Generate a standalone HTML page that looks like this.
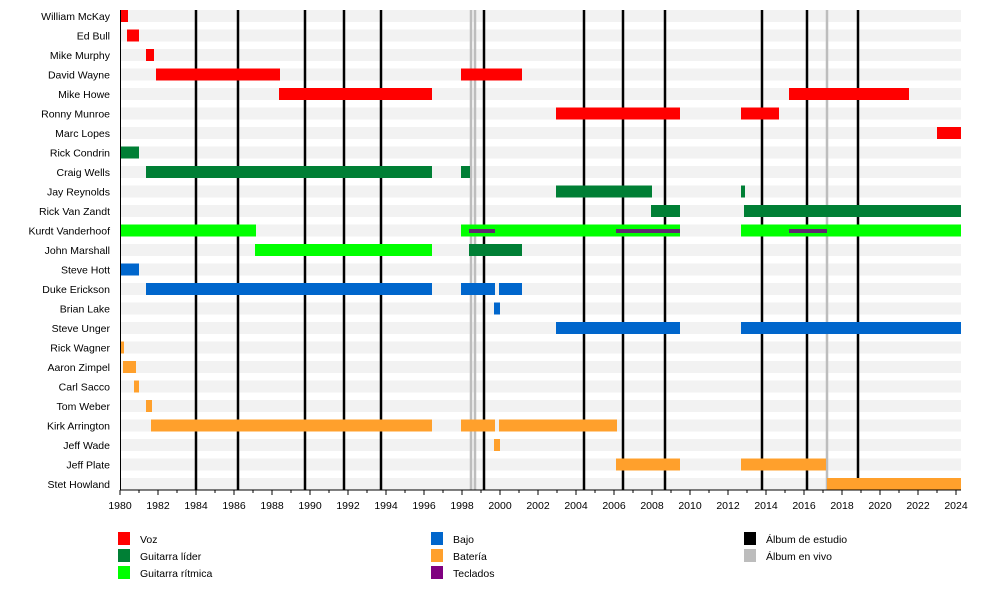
<!DOCTYPE html>
<html><head><meta charset="utf-8"><style>
html,body{margin:0;padding:0;background:#fff;}
svg{display:block;font-family:"Liberation Sans",sans-serif;}
</style></head><body>
<svg width="1000" height="590" viewBox="0 0 1000 590" xmlns="http://www.w3.org/2000/svg">
<g fill="#f2f2f2">
<rect x="120" y="10" width="841" height="12"/><rect x="120" y="29.5" width="841" height="12"/><rect x="120" y="49" width="841" height="12"/><rect x="120" y="68.5" width="841" height="12"/><rect x="120" y="88" width="841" height="12"/><rect x="120" y="107.5" width="841" height="12"/><rect x="120" y="127" width="841" height="12"/><rect x="120" y="146.5" width="841" height="12"/><rect x="120" y="166" width="841" height="12"/><rect x="120" y="185.5" width="841" height="12"/><rect x="120" y="205" width="841" height="12"/><rect x="120" y="224.5" width="841" height="12"/><rect x="120" y="244" width="841" height="12"/><rect x="120" y="263.5" width="841" height="12"/><rect x="120" y="283" width="841" height="12"/><rect x="120" y="302.5" width="841" height="12"/><rect x="120" y="322" width="841" height="12"/><rect x="120" y="341.5" width="841" height="12"/><rect x="120" y="361" width="841" height="12"/><rect x="120" y="380.5" width="841" height="12"/><rect x="120" y="400" width="841" height="12"/><rect x="120" y="419.5" width="841" height="12"/><rect x="120" y="439" width="841" height="12"/><rect x="120" y="458.5" width="841" height="12"/><rect x="120" y="478" width="841" height="12"/>
</g>
<g stroke="#000" stroke-width="2.5">
<line x1="196" y1="10" x2="196" y2="490"/><line x1="238" y1="10" x2="238" y2="490"/><line x1="305" y1="10" x2="305" y2="490"/><line x1="344" y1="10" x2="344" y2="490"/><line x1="381" y1="10" x2="381" y2="490"/><line x1="484" y1="10" x2="484" y2="490"/><line x1="584" y1="10" x2="584" y2="490"/><line x1="623" y1="10" x2="623" y2="490"/><line x1="665" y1="10" x2="665" y2="490"/><line x1="762" y1="10" x2="762" y2="490"/><line x1="807" y1="10" x2="807" y2="490"/><line x1="858" y1="10" x2="858" y2="490"/>
</g>
<g stroke="#bdbdbd" stroke-width="2.5">
<line x1="471" y1="10" x2="471" y2="490"/><line x1="475" y1="10" x2="475" y2="490"/><line x1="827" y1="10" x2="827" y2="490"/>
</g>
<g fill="#ff0000">
<rect x="120" y="10" width="8" height="12"/><rect x="127" y="29.5" width="12" height="12"/><rect x="146" y="49" width="8" height="12"/>
<rect x="156" y="68.5" width="124" height="12"/><rect x="461" y="68.5" width="61" height="12"/>
<rect x="279" y="88" width="153" height="12"/><rect x="789" y="88" width="120" height="12"/>
<rect x="556" y="107.5" width="124" height="12"/><rect x="741" y="107.5" width="38" height="12"/>
<rect x="937" y="127" width="24" height="12"/>
</g>
<g fill="#007f35">
<rect x="120" y="146.5" width="19" height="12"/>
<rect x="146" y="166" width="286" height="12"/><rect x="461" y="166" width="9" height="12"/>
<rect x="556" y="185.5" width="96" height="12"/><rect x="741" y="185.5" width="4" height="12"/>
<rect x="651" y="205" width="29" height="12"/><rect x="744" y="205" width="217" height="12"/>
<rect x="469" y="244" width="53" height="12"/>
</g>
<g fill="#00ff00">
<rect x="120" y="224.5" width="136" height="12"/><rect x="461" y="224.5" width="219" height="12"/><rect x="741" y="224.5" width="220" height="12"/>
<rect x="255" y="244" width="177" height="12"/>
</g>
<g fill="#5e2a6e">
<rect x="469" y="229" width="26" height="4"/><rect x="616" y="229" width="64" height="4"/><rect x="789" y="229" width="38" height="4"/>
</g>
<g fill="#0066cc">
<rect x="120" y="263.5" width="19" height="12"/>
<rect x="146" y="283" width="286" height="12"/><rect x="461" y="283" width="34" height="12"/><rect x="499" y="283" width="23" height="12"/>
<rect x="494" y="302.5" width="6" height="12"/>
<rect x="556" y="322" width="124" height="12"/><rect x="741" y="322" width="220" height="12"/>
</g>
<g fill="#ffa02c">
<rect x="120" y="341.5" width="4" height="12"/><rect x="123" y="361" width="13" height="12"/><rect x="134" y="380.5" width="5" height="12"/><rect x="146" y="400" width="6" height="12"/>
<rect x="151" y="419.5" width="281" height="12"/><rect x="461" y="419.5" width="34" height="12"/><rect x="499" y="419.5" width="118" height="12"/>
<rect x="494" y="439" width="6" height="12"/>
<rect x="616" y="458.5" width="64" height="12"/><rect x="741" y="458.5" width="85" height="12"/>
<rect x="827" y="478" width="134" height="12"/>
</g>
<g font-size="10.5" fill="#000" text-anchor="end">
<text x="110" y="20">William McKay</text><text x="110" y="39.5">Ed Bull</text><text x="110" y="59">Mike Murphy</text><text x="110" y="78.5">David Wayne</text><text x="110" y="98">Mike Howe</text><text x="110" y="117.5">Ronny Munroe</text><text x="110" y="137">Marc Lopes</text><text x="110" y="156.5">Rick Condrin</text><text x="110" y="176">Craig Wells</text><text x="110" y="195.5">Jay Reynolds</text><text x="110" y="215">Rick Van Zandt</text><text x="110" y="234.5">Kurdt Vanderhoof</text><text x="110" y="254">John Marshall</text><text x="110" y="273.5">Steve Hott</text><text x="110" y="293">Duke Erickson</text><text x="110" y="312.5">Brian Lake</text><text x="110" y="332">Steve Unger</text><text x="110" y="351.5">Rick Wagner</text><text x="110" y="371">Aaron Zimpel</text><text x="110" y="390.5">Carl Sacco</text><text x="110" y="410">Tom Weber</text><text x="110" y="429.5">Kirk Arrington</text><text x="110" y="449">Jeff Wade</text><text x="110" y="468.5">Jeff Plate</text><text x="110" y="488">Stet Howland</text>
</g>
<line x1="120" y1="490" x2="961" y2="490" stroke="#000" stroke-width="1"/>
<line x1="120.5" y1="10" x2="120.5" y2="490" stroke="#000" stroke-width="1"/>
<g stroke="#000" stroke-width="1">
<path d="M120 490v5M139 490v3M158 490v5M177 490v3M196 490v5M215 490v3M234 490v5M253 490v3M272 490v5M291 490v3M310 490v5M329 490v3M348 490v5M367 490v3M386 490v5M405 490v3M424 490v5M443 490v3M462 490v5M481 490v3M500 490v5M519 490v3M538 490v5M557 490v3M576 490v5M595 490v3M614 490v5M633 490v3M652 490v5M671 490v3M690 490v5M709 490v3M728 490v5M747 490v3M766 490v5M785 490v3M804 490v5M823 490v3M842 490v5M861 490v3M880 490v5M899 490v3M918 490v5M937 490v3M956 490v5"/>
</g>
<g font-size="10.5" fill="#000" text-anchor="middle">
<text x="120" y="509">1980</text><text x="158" y="509">1982</text><text x="196" y="509">1984</text><text x="234" y="509">1986</text><text x="272" y="509">1988</text><text x="310" y="509">1990</text><text x="348" y="509">1992</text><text x="386" y="509">1994</text><text x="424" y="509">1996</text><text x="462" y="509">1998</text><text x="500" y="509">2000</text><text x="538" y="509">2002</text><text x="576" y="509">2004</text><text x="614" y="509">2006</text><text x="652" y="509">2008</text><text x="690" y="509">2010</text><text x="728" y="509">2012</text><text x="766" y="509">2014</text><text x="804" y="509">2016</text><text x="842" y="509">2018</text><text x="880" y="509">2020</text><text x="918" y="509">2022</text><text x="956" y="509">2024</text>
</g>
<rect x="118" y="532" width="12" height="13" fill="#ff0000"/>
<rect x="118" y="549" width="12" height="13" fill="#007f35"/>
<rect x="118" y="566" width="12" height="13" fill="#00ff00"/>
<rect x="431" y="532" width="12" height="13" fill="#0066cc"/>
<rect x="431" y="549" width="12" height="13" fill="#ffa02c"/>
<rect x="431" y="566" width="12" height="13" fill="#800080"/>
<rect x="744" y="532" width="12" height="13" fill="#000"/>
<rect x="744" y="549" width="12" height="13" fill="#bdbdbd"/>
<g font-size="10.5" fill="#000">
<text x="140" y="543">Voz</text><text x="140" y="560">Guitarra líder</text><text x="140" y="577">Guitarra rítmica</text>
<text x="453" y="543">Bajo</text><text x="453" y="560">Batería</text><text x="453" y="577">Teclados</text>
<text x="766" y="543">Álbum de estudio</text><text x="766" y="560">Álbum en vivo</text>
</g>
</svg>
</body></html>
